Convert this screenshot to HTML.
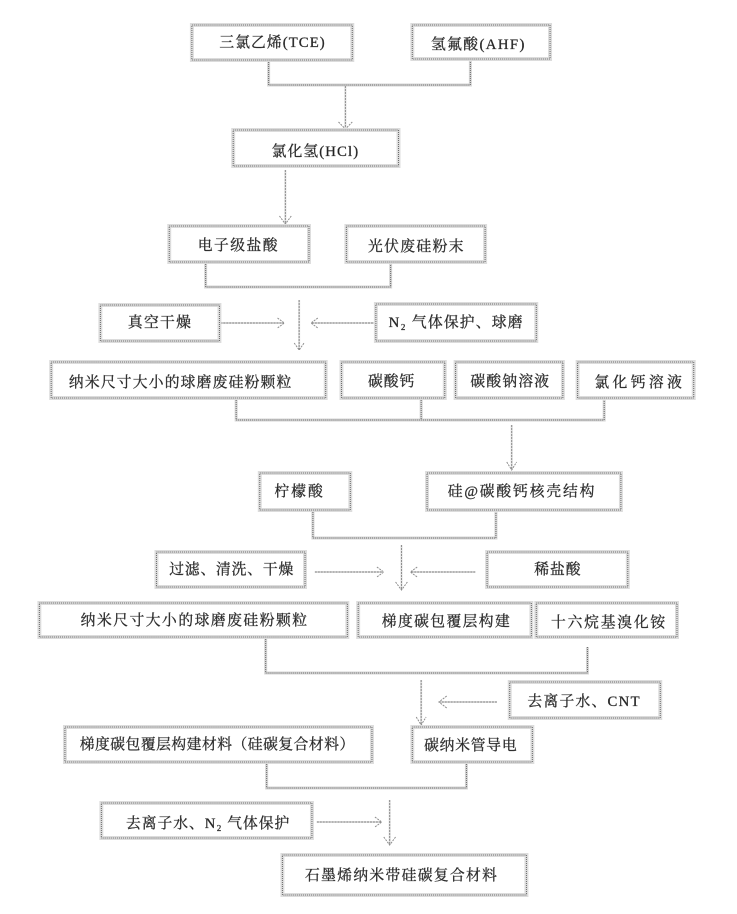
<!DOCTYPE html>
<html lang="zh"><head><meta charset="utf-8"><title>石墨烯纳米带硅碳复合材料</title>
<style>
html,body{margin:0;padding:0;background:#fff}
svg{display:block}
.b{fill:#fff;stroke:#dcdcdc;stroke-width:4}
.i{fill:none;stroke:#6a6a6a;stroke-width:1;stroke-dasharray:1 1}
.c{fill:none;stroke:#d4d4d4;stroke-width:3}
.d{fill:none;stroke:#6a6a6a;stroke-width:1;stroke-dasharray:1 1}
.h{fill:none;stroke:#ddd;stroke-width:2}
.a{fill:none;stroke:#8c8c8c;stroke-width:1;stroke-dasharray:2 1}
text{font-family:"Liberation Serif","Noto Serif CJK SC",serif;font-size:15px;fill:#222;dominant-baseline:central;stroke:#444;stroke-width:.35}
</style></head><body>
<svg width="737" height="914" viewBox="0 0 737 914" xmlns="http://www.w3.org/2000/svg">
<g transform="scale(.984 1)">
<!-- connectors -->
<path class="c" d="M273 60V85H478V60"/><path class="d" d="M273 60V85H478V60"/>
<path class="c" d="M209 262V287H397V262"/><path class="d" d="M209 262V287H397V262"/>
<path class="c" d="M240 398V420H614V398M428 398V420"/><path class="d" d="M240 398V420H614V398M428 398V420"/>
<path class="c" d="M318 510V538H504V510"/><path class="d" d="M318 510V538H504V510"/>
<path class="c" d="M270 637V673H597V647"/><path class="d" d="M270 637V673H597V647"/>
<path class="c" d="M271 762V788H474V762"/><path class="d" d="M271 762V788H474V762"/>
<!-- arrows -->
<path class="h" d="M351 86V129M290 170V224M224 323H288M382 323H317M304 300V350M520 425V470M320 572H388M483 572H418M408 545V590M428 680V725M505 702H447M322 822H386M396 800V845"/>
<path class="a" d="M351 86V129M344 122L351 129L358 122"/>
<path class="a" d="M290 170V224M284 216L290 224L296 216"/>
<path class="a" d="M224 323H288M282 318L289 323L282 328M382 323H316M323 318L316 323L323 328"/>
<path class="a" d="M304 300V350M299 343L304 350L309 343"/>
<path class="a" d="M520 425V470M515 462L520 470L525 462"/>
<path class="a" d="M320 572H389M383 567L390 572L383 577M483 572H417M424 567L417 572L424 577"/>
<path class="a" d="M408 545V590M402 582L408 590L414 582"/>
<path class="a" d="M428 680V725M423 717L428 725L433 717M505 702H446M454 696L446 702L454 708"/>
<path class="a" d="M322 822H388M381 817L388 822L381 827M396 800V845M390 837L396 845L402 837"/>
<!-- boxes -->
<rect class="b" x="195" y="25" width="163" height="35"/><rect class="i" x="195" y="25" width="163" height="35"/>
<rect class="b" x="419" y="25" width="140" height="34"/><rect class="i" x="419" y="25" width="140" height="34"/>
<rect class="b" x="237" y="130" width="168" height="36"/><rect class="i" x="237" y="130" width="168" height="36"/>
<rect class="b" x="172" y="226" width="142" height="36"/><rect class="i" x="172" y="226" width="142" height="36"/>
<rect class="b" x="352" y="226" width="141" height="36"/><rect class="i" x="352" y="226" width="141" height="36"/>
<rect class="b" x="102" y="305" width="121" height="36"/><rect class="i" x="102" y="305" width="121" height="36"/>
<rect class="b" x="382" y="304" width="163" height="37"/><rect class="i" x="382" y="304" width="163" height="37"/>
<rect class="b" x="52" y="362" width="279" height="36"/><rect class="i" x="52" y="362" width="279" height="36"/>
<rect class="b" x="347" y="362" width="105" height="36"/><rect class="i" x="347" y="362" width="105" height="36"/>
<rect class="b" x="463" y="362" width="109" height="36"/><rect class="i" x="463" y="362" width="109" height="36"/>
<rect class="b" x="587" y="362" width="118" height="36"/><rect class="i" x="587" y="362" width="118" height="36"/>
<rect class="b" x="264" y="473" width="92" height="37"/><rect class="i" x="264" y="473" width="92" height="37"/>
<rect class="b" x="434" y="473" width="197" height="37"/><rect class="i" x="434" y="473" width="197" height="37"/>
<rect class="b" x="159" y="552" width="151" height="35"/><rect class="i" x="159" y="552" width="151" height="35"/>
<rect class="b" x="495" y="552" width="143" height="35"/><rect class="i" x="495" y="552" width="143" height="35"/>
<rect class="b" x="40" y="603" width="313" height="34"/><rect class="i" x="40" y="603" width="313" height="34"/>
<rect class="b" x="364" y="603" width="176" height="34"/><rect class="i" x="364" y="603" width="176" height="34"/>
<rect class="b" x="545" y="603" width="143" height="34"/><rect class="i" x="545" y="603" width="143" height="34"/>
<rect class="b" x="518" y="682" width="153" height="36"/><rect class="i" x="518" y="682" width="153" height="36"/>
<rect class="b" x="66" y="727" width="312" height="35"/><rect class="i" x="66" y="727" width="312" height="35"/>
<rect class="b" x="419" y="727" width="122" height="35"/><rect class="i" x="419" y="727" width="122" height="35"/>
<rect class="b" x="103" y="803" width="214" height="35"/><rect class="i" x="103" y="803" width="214" height="35"/>
<rect class="b" x="287" y="855" width="248" height="40"/><rect class="i" x="287" y="855" width="248" height="40"/>
<!-- labels -->
<text x="223" y="43" textLength="107">三氯乙烯(TCE)</text>
<text x="438" y="45" textLength="95">氢氟酸(AHF)</text>
<text x="276" y="152" textLength="88">氯化氢(HCl)</text>
<text x="201" y="246" textLength="81">电子级盐酸</text>
<text x="374" y="247" textLength="97">光伏废硅粉末</text>
<text x="130" y="323" textLength="64">真空干燥</text>
<text x="395" y="323" textLength="136">N₂ 气体保护、球磨</text>
<text x="70" y="383" textLength="226">纳米尺寸大小的球磨废硅粉颗粒</text>
<text x="374" y="382" textLength="47">碳酸钙</text>
<text x="478" y="382" textLength="80">碳酸钠溶液</text>
<text x="604" y="383" textLength="89">氯化钙溶液</text>
<text x="279" y="492" textLength="49">柠檬酸</text>
<text x="455" y="492" textLength="149">硅@碳酸钙核壳结构</text>
<text x="172" y="570" textLength="126">过滤、清洗、干燥</text>
<text x="543" y="570" textLength="47">稀盐酸</text>
<text x="82" y="621" textLength="230">纳米尺寸大小的球磨废硅粉颗粒</text>
<text x="388" y="622" textLength="130">梯度碳包覆层构建</text>
<text x="560" y="623" textLength="116">十六烷基溴化铵</text>
<text x="536" y="702" textLength="114">去离子水、CNT</text>
<text x="81" y="745" textLength="279">梯度碳包覆层构建材料（硅碳复合材料）</text>
<text x="431" y="746" textLength="94">碳纳米管导电</text>
<text x="128" y="824" textLength="166">去离子水、N₂ 气体保护</text>
<text x="310" y="876" textLength="195">石墨烯纳米带硅碳复合材料</text>
</g>
</svg>
</body></html>
